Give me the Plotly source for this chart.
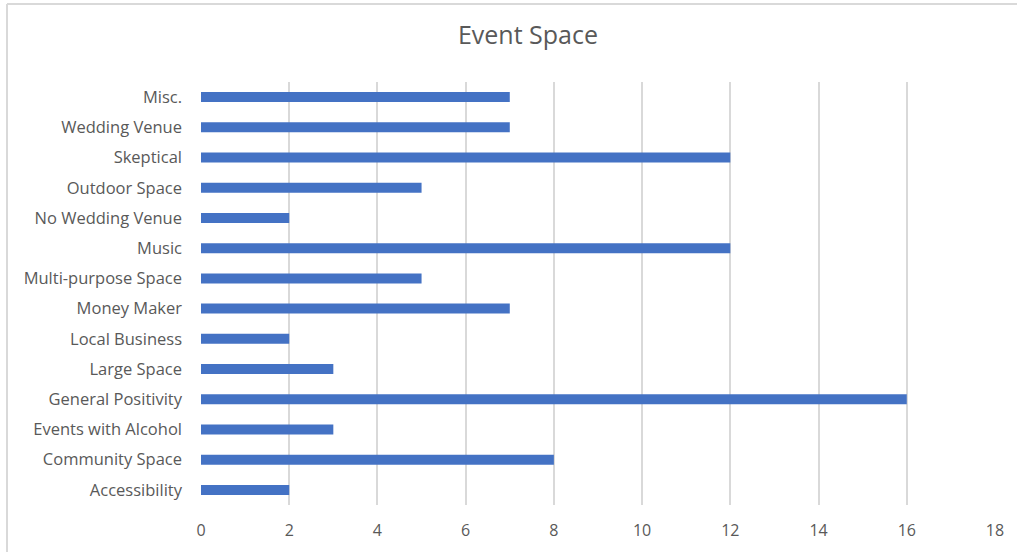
import plotly.graph_objects as go

# Response themes (bottom to top) and their counts
categories = [
    "Accessibility", "Community Space", "Events with Alcohol", "General Positivity",
    "Large Space", "Local Business", "Money Maker", "Multi-purpose Space",
    "Music", "No Wedding Venue", "Outdoor Space", "Skeptical", "Wedding Venue", "Misc.",
]
counts = [2, 8, 3, 16, 3, 2, 7, 5, 12, 2, 5, 12, 7, 7]
x_ticks = [0, 2, 4, 6, 8, 10, 12, 14, 16, 18]

FONT = "'Open Sans', Lato, sans-serif"
GRAY = "#595959"

fig = go.Figure(
    go.Bar(
        x=counts,
        y=categories,
        orientation="h",
        width=0.33,
        marker=dict(color="#4472C4", line=dict(width=0)),
    )
)

# frame around the chart (left and top edges visible)
L, R, T, B = 201, 995, 82, 505
W, H = R - L, B - T
def px(xp):
    return (xp - L) / W
def py(yp):
    return (B - yp) / H

fig.add_shape(type="line", xref="paper", yref="paper",
              x0=px(7), x1=px(7), y0=py(560), y1=py(4),
              line=dict(color="#D9D9D9", width=2))
fig.add_shape(type="line", xref="paper", yref="paper",
              x0=px(7), x1=px(1030), y0=py(4), y1=py(4),
              line=dict(color="#D9D9D9", width=2))

fig.update_layout(
    width=1017,
    height=552,
    margin=dict(l=L, r=1017 - R, t=T, b=552 - B),
    paper_bgcolor="white",
    plot_bgcolor="white",
    showlegend=False,
    title=dict(
        text="Event Space",
        x=(528) / 1017,
        xanchor="center",
        y=1 - 35 / 552,
        yanchor="middle",
        font=dict(family=FONT, size=25, color=GRAY),
    ),
    xaxis=dict(
        range=[0, 18],
        tickvals=x_ticks,
        showgrid=True,
        gridcolor="#D9D9D9",
        gridwidth=1.5,
        zeroline=False,
        showline=False,
        ticks="",
        ticklabelstandoff=14,
        tickfont=dict(family=FONT, size=16, color=GRAY),
    ),
    yaxis=dict(
        categoryorder="array",
        categoryarray=categories,
        range=[-0.5, 13.5],
        showgrid=False,
        zeroline=False,
        showline=False,
        ticks="",
        ticklabelstandoff=18,
        tickfont=dict(family=FONT, size=16.5, color=GRAY),
    ),
)

fig.write_html("out.html")
